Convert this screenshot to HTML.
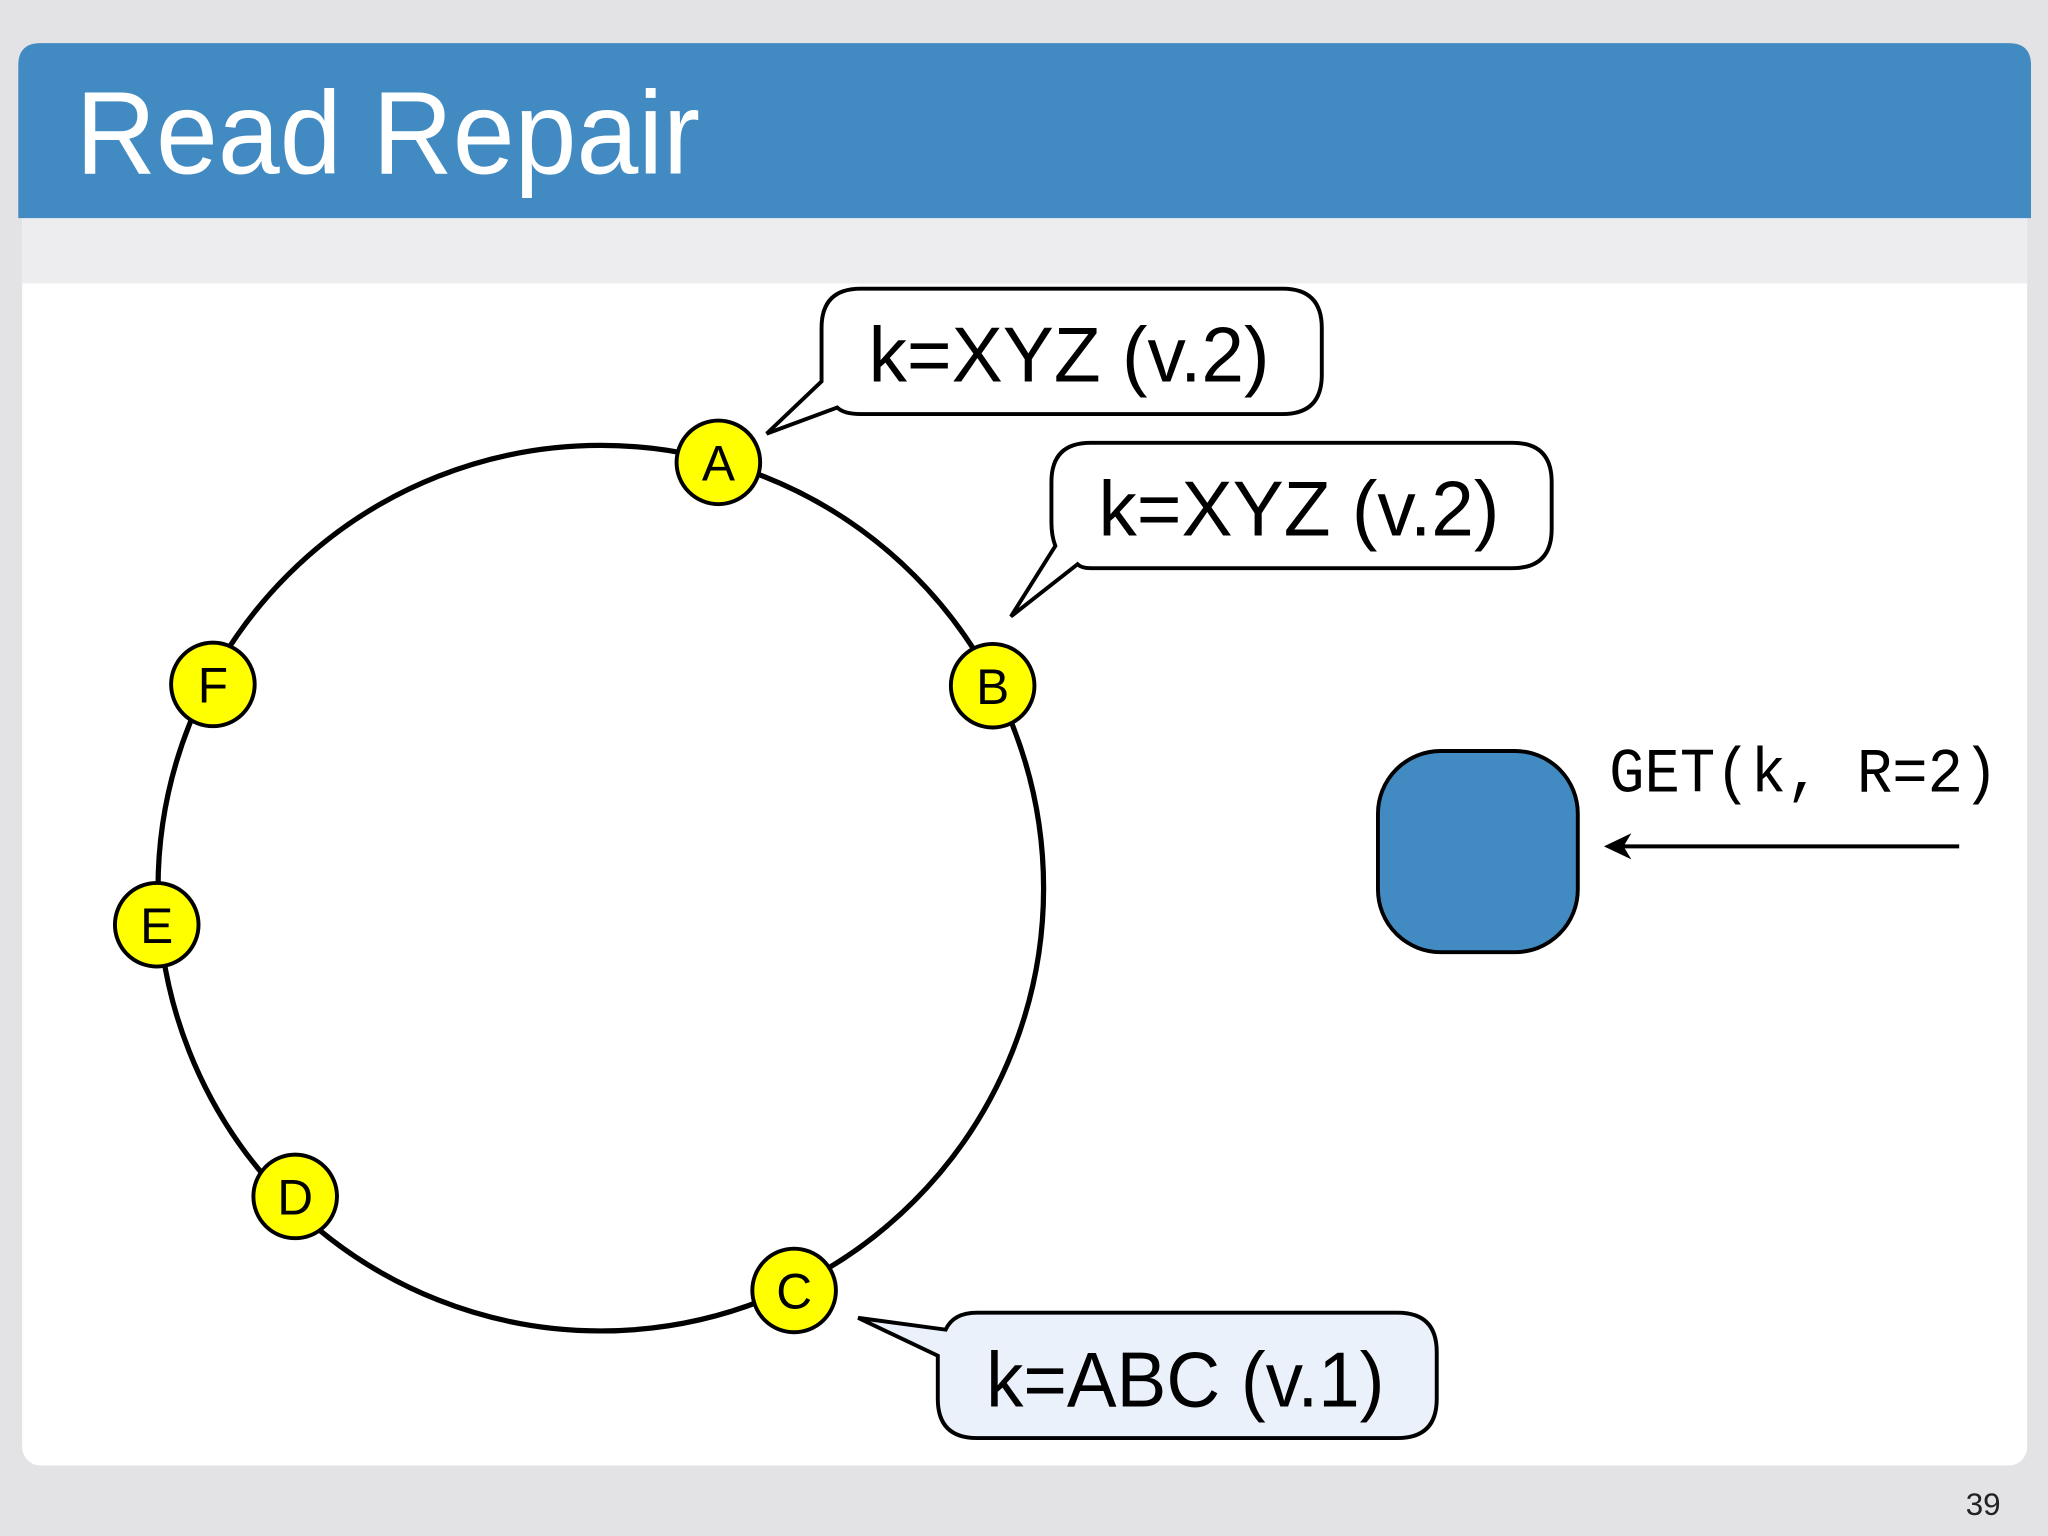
<!DOCTYPE html>
<html><head><meta charset="utf-8"><style>
html,body{margin:0;padding:0;background:#e3e3e5;}
svg{display:block;}
</style></head><body>
<svg width="2048" height="1536" viewBox="0 0 1568 1176" xmlns="http://www.w3.org/2000/svg">
<rect x="0" y="0" width="1568" height="1176" fill="#e3e3e5"/>
<rect x="17" y="150" width="1535" height="972" rx="14" fill="#ffffff"/>
<rect x="17" y="167" width="1535" height="50" fill="#ededf0"/>
<path d="M14 167 V50 Q14 33 31 33 H1538 Q1555 33 1555 50 V167 Z" fill="#428bc2"/>
<text x="58" y="133" font-family="Liberation Sans, sans-serif" font-size="90" fill="#ffffff" textLength="478" lengthAdjust="spacingAndGlyphs">Read Repair</text>

<circle cx="460" cy="680" r="339" fill="none" stroke="#000" stroke-width="4"/>

<g font-family="Liberation Sans, sans-serif" font-size="38" text-anchor="middle">
<circle cx="550" cy="354" r="32" fill="#ffff00" stroke="#000" stroke-width="3"/><text x="550" y="368">A</text>
<circle cx="760" cy="525" r="32" fill="#ffff00" stroke="#000" stroke-width="3"/><text x="760" y="539">B</text>
<circle cx="163" cy="524" r="32" fill="#ffff00" stroke="#000" stroke-width="3"/><text x="163" y="538">F</text>
<circle cx="120" cy="708" r="32" fill="#ffff00" stroke="#000" stroke-width="3"/><text x="120" y="722">E</text>
<circle cx="226" cy="916" r="32" fill="#ffff00" stroke="#000" stroke-width="3"/><text x="226" y="930">D</text>
<circle cx="608" cy="988" r="32" fill="#ffff00" stroke="#000" stroke-width="3"/><text x="608" y="1002">C</text>
</g>

<g stroke="#000" stroke-width="3" stroke-linejoin="miter">
<path d="M659 221 H982 Q1012 221 1012 251 V287 Q1012 317 982 317 H659 Q646 317 641 312 L587 332 L629 292 V251 Q629 221 659 221 Z" fill="#fff"/>
<path d="M835 339 H1158 Q1188 339 1188 369 V405 Q1188 435 1158 435 H835 Q828 435 825 432 L774 472 L808 418 Q805 410 805 400 V369 Q805 339 835 339 Z" fill="#fff"/>
<path d="M748 1005 H1070 Q1100 1005 1100 1035 V1071 Q1100 1101 1070 1101 H748 Q718 1101 718 1071 V1038 L657 1009 L724 1018 Q730 1005 748 1005 Z" fill="#eaf1fa"/>
</g>
<g font-family="Liberation Sans, sans-serif" font-size="60" fill="#000">
<text x="665" y="292" textLength="307" lengthAdjust="spacingAndGlyphs">k=XYZ (v.2)</text>
<text x="841" y="410" textLength="307" lengthAdjust="spacingAndGlyphs">k=XYZ (v.2)</text>
<text x="755" y="1077" textLength="305" lengthAdjust="spacingAndGlyphs">k=ABC (v.1)</text>
</g>

<rect x="1055" y="575" width="153" height="154" rx="48" fill="#428bc2" stroke="#000" stroke-width="3"/>
<text x="1232" y="606" font-family="Liberation Mono, monospace" font-size="48" fill="#000" textLength="298" lengthAdjust="spacingAndGlyphs">GET(k, R=2)</text>
<line x1="1500" y1="648" x2="1240" y2="648" stroke="#000" stroke-width="3"/>
<path d="M1228 648 L1249 638 L1243 648 L1249 658 Z" fill="#000"/>

<text x="1505" y="1160" font-family="Liberation Sans, sans-serif" font-size="24" fill="#222">39</text>
</svg>
</body></html>
